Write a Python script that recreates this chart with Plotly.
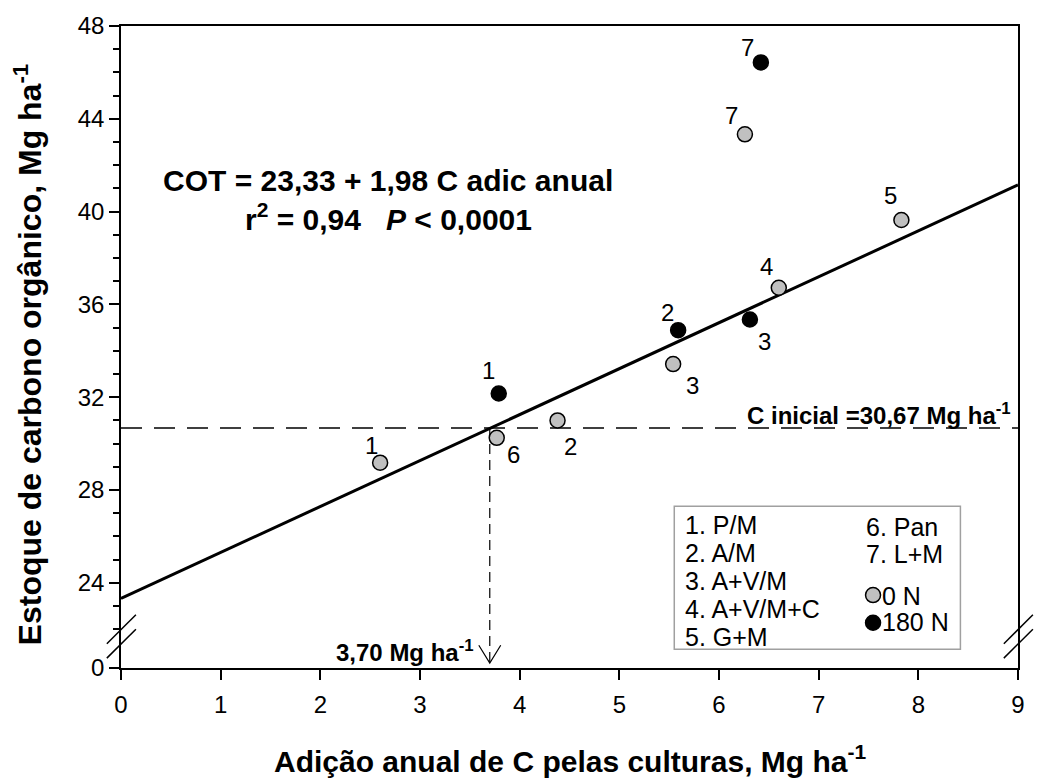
import plotly.graph_objects as go

# Annual crop C addition (Mg ha-1 yr-1) and soil organic C stock (Mg ha-1)
labels_0n = ["1", "2", "3", "4", "5", "6", "7"]
c_add_0n = [2.60, 4.38, 5.54, 6.60, 7.83, 3.77, 6.26]
cot_0n = [29.18, 31.00, 33.43, 36.72, 39.64, 30.25, 43.33]

labels_180n = ["1", "2", "3", "7"]
c_add_180n = [3.79, 5.59, 6.31, 6.42]
cot_180n = [32.16, 34.89, 35.35, 46.43]

# Fitted regression and reference values
intercept = 23.33
slope = 1.98
r2 = 0.94
c_initial = 30.67
c_add_equilibrium = 3.70

x_ticks = [0, 1, 2, 3, 4, 5, 6, 7, 8, 9]
y_tick_labels = ["0", "24", "28", "32", "36", "40", "44", "48"]

treatments_left = ["1. P/M", "2. A/M", "3. A+V/M", "4. A+V/M+C", "5. G+M"]
treatments_right = ["6. Pan", "7. L+M"]
n_levels = ["0 N", "180 N"]

# ---------------------------------------------------------------------------
# Broken y axis: the "0" tick sits at Y_FLOOR, the rest of the axis is linear
Y_FLOOR = 20.33
Y_TOP = 48
X_MAX = 9
y_tickvals = [Y_FLOOR] + [float(t) for t in y_tick_labels[1:]]
y_minor = [v for v in range(22, 48) if v % 4 != 0]

FONT = "Liberation Sans, Arial, sans-serif"

# label offsets in pixels (dx right, dy down) for each numbered point
shift_0n = [(-9, -17), (13, 26), (19, 21), (-12, -21), (-11, -24), (17, 17), (-13, -19)]
shift_180n = [(-10, -23), (-11, -18), (15, 22), (-13, -15)]


def comma(s):
    return s.replace(".", ",")


fig = go.Figure()

# regression line
x_line = [0, X_MAX]
fig.add_trace(go.Scatter(
    x=x_line, y=[intercept + slope * v for v in x_line], mode="lines",
    line=dict(color="black", width=3), showlegend=False, hoverinfo="skip"))

# initial C stock
fig.add_trace(go.Scatter(
    x=[0, X_MAX], y=[c_initial, c_initial], mode="lines",
    line=dict(color="black", width=1.5, dash="21px,12px"),
    showlegend=False, hoverinfo="skip"))

# C addition needed to keep the initial stock
tip_y = Y_FLOOR + 0.21
fig.add_trace(go.Scatter(
    x=[c_add_equilibrium, c_add_equilibrium], y=[c_initial, tip_y], mode="lines",
    line=dict(color="black", width=1.2, dash="10px,6px"),
    showlegend=False, hoverinfo="skip"))
fig.add_trace(go.Scatter(
    x=[c_add_equilibrium - 0.11, c_add_equilibrium, c_add_equilibrium + 0.11],
    y=[tip_y + 0.77, tip_y, tip_y + 0.77], mode="lines",
    line=dict(color="black", width=1.2), showlegend=False, hoverinfo="skip"))

# data points (legend keys show only the symbols; their text is drawn in the key box)
fig.add_trace(go.Scatter(
    x=c_add_0n, y=cot_0n, mode="markers", name="",
    marker=dict(size=15, color="#c0c0c0", line=dict(color="black", width=1.5))))
fig.add_trace(go.Scatter(
    x=c_add_180n, y=cot_180n, mode="markers", name="",
    marker=dict(size=15, color="black", line=dict(color="black", width=1.5))))

annotations = []
for xs, ys, labs, shifts in [(c_add_0n, cot_0n, labels_0n, shift_0n),
                             (c_add_180n, cot_180n, labels_180n, shift_180n)]:
    for xv, yv, lab, (dx, dy) in zip(xs, ys, labs, shifts):
        annotations.append(dict(
            x=xv, y=yv, xref="x", yref="y", text=lab, showarrow=False,
            xshift=dx, yshift=-dy, font=dict(size=24, color="black")))

# regression equation
annotations.append(dict(
    x=0.2979, y=0.7596, xref="paper", yref="paper", showarrow=False,
    xanchor="center", yanchor="middle",
    text=comma(f"<b>COT = {intercept:.2f} + {slope:.2f} C adic anual</b>"),
    font=dict(size=30, color="black")))
annotations.append(dict(
    x=0.2979, y=0.702, xref="paper", yref="paper", showarrow=False,
    xanchor="center", yanchor="middle",
    text=(comma(f"<b>r<sup>2</sup> = {r2:.2f}")
          + "\u00a0\u00a0\u00a0<i>P</i> < 0,0001</b>"),
    font=dict(size=30, color="black")))

# reference labels
annotations.append(dict(
    x=X_MAX, y=c_initial, xref="x", yref="y", xanchor="right", yanchor="middle",
    xshift=-5, yshift=14, showarrow=False,
    text=comma(f"<b>C inicial ={c_initial:.2f} Mg ha<sup>-1</sup></b>"),
    font=dict(size=24, color="black")))
annotations.append(dict(
    x=c_add_equilibrium, y=Y_FLOOR, xref="x", yref="y", xanchor="right",
    yanchor="middle", xshift=-14, yshift=17, showarrow=False,
    text=comma(f"<b>{c_add_equilibrium:.2f} Mg ha<sup>-1</sup></b>"),
    font=dict(size=24, color="black")))

# key box text
for i, t in enumerate(treatments_left):
    annotations.append(dict(
        x=0.6265, y=0.2229 - i * 0.0437, xref="paper", yref="paper",
        xanchor="left", yanchor="middle", text=t, showarrow=False,
        font=dict(size=25, color="black")))
for i, t in enumerate(treatments_right):
    annotations.append(dict(
        x=0.8283, y=0.2198 - i * 0.043, xref="paper", yref="paper",
        xanchor="left", yanchor="middle", text=t, showarrow=False,
        font=dict(size=25, color="black")))
for i, t in enumerate(n_levels):
    annotations.append(dict(
        x=0.8461, y=0.1122 - i * 0.041, xref="paper", yref="paper",
        xanchor="left", yanchor="middle", text=t, showarrow=False,
        font=dict(size=25, color="black")))

# axis titles
annotations.append(dict(
    x=0.5, y=-0.1413, xref="paper", yref="paper", showarrow=False,
    xanchor="center", yanchor="middle",
    text="<b>Adição anual de C pelas culturas, Mg ha<sup>-1</sup></b>",
    font=dict(size=30, color="black")))
annotations.append(dict(
    x=-0.104, y=0.488, xref="paper", yref="paper", showarrow=False, textangle=-90,
    xanchor="center", yanchor="middle",
    text="<b>Estoque de carbono orgânico, Mg ha<sup>-1</sup></b>",
    font=dict(size=32, color="black")))

shapes = [
    # key box
    dict(type="rect", xref="paper", yref="paper", x0=0.6168, x1=0.9358,
         y0=0.0292, y1=0.2521, line=dict(color="#a0a0a0", width=1.5),
         fillcolor="rgba(0,0,0,0)"),
]
# axis break marks on both vertical axes
for xc in (0.0, 1.0):
    for y0, y1 in ((0.0378, 0.0830), (0.0154, 0.0604)):
        shapes.append(dict(type="line", xref="paper", yref="paper",
                           x0=xc - 0.0158, x1=xc + 0.0166, y0=y0, y1=y1,
                           line=dict(color="black", width=1.5)))

axis_common = dict(
    showline=True, linecolor="black", linewidth=1.5, mirror=True,
    ticks="outside", ticklen=10, tickwidth=1.5, tickcolor="black",
    showgrid=False, zeroline=False,
    tickfont=dict(size=24, color="black", family=FONT))

fig.update_layout(
    width=1037, height=780,
    margin=dict(l=121, r=13, t=17, b=112),
    paper_bgcolor="white", plot_bgcolor="white",
    font=dict(family=FONT, color="black"),
    xaxis=dict(range=[0, X_MAX], tickmode="array", tickvals=x_ticks,
               ticklabelstandoff=4, **axis_common),
    yaxis=dict(range=[Y_FLOOR, Y_TOP], tickmode="array", tickvals=y_tickvals,
               ticktext=y_tick_labels,
               minor=dict(tickmode="array", tickvals=y_minor, ticks="outside",
                          ticklen=6, tickwidth=1.5, tickcolor="black"),
               **axis_common),
    showlegend=True,
    legend=dict(x=0.8161, y=0.143, xanchor="left", yanchor="top",
                bgcolor="rgba(0,0,0,0)", borderwidth=0,
                font=dict(size=19, color="black")),
    annotations=annotations,
    shapes=shapes,
)

fig.write_html("out.html")
